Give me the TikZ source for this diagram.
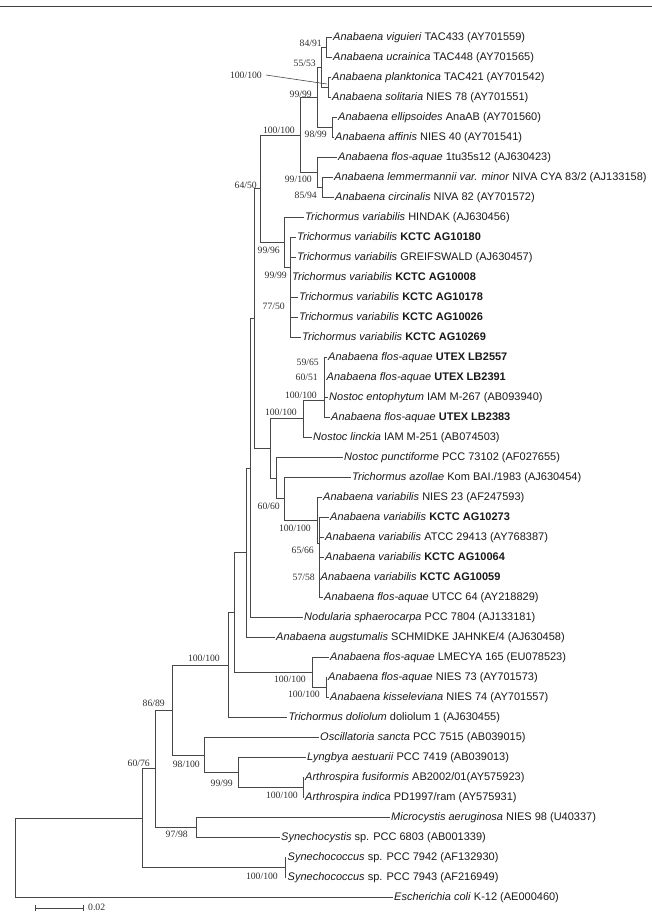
\documentclass[tikz,border=0pt]{standalone}
\usepackage{fontspec}
\setmainfont{Liberation Serif}
\newfontfamily\leaffont{Liberation Sans}
\begin{document}
\begin{tikzpicture}[x=1pt,y=-1pt,
  br/.style={draw=black!72, line width=0.85pt},
  leaf/.style={anchor=west, inner xsep=1.5pt, inner ysep=0pt, font=\leaffont\fontsize{11}{13}\selectfont, text=black!90, text height=8pt, text depth=2.6pt},
  bs/.style={anchor=east, inner sep=0pt, font=\fontsize{9.7}{11}\selectfont, text=black!82},
  rule/.style={draw=black!75, line width=1pt}]
\useasboundingbox (0,0) rectangle (652,922);
\coordinate (r1) at (0,6.5); \coordinate (r2) at (652,6.5);
\draw[rule] (r1) -- (r2);

% leaves
\node[leaf] (l1) at (331.5,37.5) {\textit{Anabaena viguieri} TAC433 (AY701559)};
\node[leaf] (l2) at (331.5,57.5) {\textit{Anabaena ucrainica} TAC448 (AY701565)};
\node[leaf] (l3) at (330.5,77.5) {\textit{Anabaena planktonica} TAC421 (AY701542)};
\node[leaf] (l4) at (330.5,97.5) {\textit{Anabaena solitaria} NIES 78 (AY701551)};
\node[leaf] (l5) at (336.5,117.5) {\textit{Anabaena ellipsoides} AnaAB (AY701560)};
\node[leaf] (l6) at (333.5,137.5) {\textit{Anabaena affinis} NIES 40 (AY701541)};
\node[leaf] (l7) at (336.5,157.5) {\textit{Anabaena flos-aquae} 1tu35s12 (AJ630423)};
\node[leaf] (l8) at (332.5,177.5) {\textit{Anabaena lemmermannii var. minor} NIVA CYA 83/2 (AJ133158)};
\node[leaf] (l9) at (333.5,197.5) {\textit{Anabaena circinalis} NIVA 82 (AY701572)};
\node[leaf] (l10) at (303.5,217.5) {\textit{Trichormus variabilis} HINDAK (AJ630456)};
\node[leaf] (l11) at (295.5,237.5) {\textit{Trichormus variabilis} \textbf{KCTC AG10180}};
\node[leaf] (l12) at (295.5,257.5) {\textit{Trichormus variabilis} GREIFSWALD (AJ630457)};
\node[leaf] (l13) at (290.5,277.5) {\textit{Trichormus variabilis} \textbf{KCTC AG10008}};
\node[leaf] (l14) at (297.5,297.5) {\textit{Trichormus variabilis} \textbf{KCTC AG10178}};
\node[leaf] (l15) at (297.5,317.5) {\textit{Trichormus variabilis} \textbf{KCTC AG10026}};
\node[leaf] (l16) at (300.5,337.5) {\textit{Trichormus variabilis} \textbf{KCTC AG10269}};
\node[leaf] (l17) at (326.5,357.5) {\textit{Anabaena flos-aquae} \textbf{UTEX LB2557}};
\node[leaf] (l18) at (325,377.5) {\textit{Anabaena flos-aquae} \textbf{UTEX LB2391}};
\node[leaf] (l19) at (327.5,397.5) {\textit{Nostoc entophytum} IAM M-267 (AB093940)};
\node[leaf] (l20) at (329.5,417.5) {\textit{Anabaena flos-aquae} \textbf{UTEX LB2383}};
\node[leaf] (l21) at (311.5,437.5) {\textit{Nostoc linckia} IAM M-251 (AB074503)};
\node[leaf] (l22) at (342.5,457.5) {\textit{Nostoc punctiforme} PCC 73102 (AF027655)};
\node[leaf] (l23) at (350.5,477.5) {\textit{Trichormus azollae} Kom BAI./1983 (AJ630454)};
\node[leaf] (l24) at (321.5,497.5) {\textit{Anabaena variabilis} NIES 23 (AF247593)};
\node[leaf] (l25) at (328.5,517.5) {\textit{Anabaena variabilis} \textbf{KCTC AG10273}};
\node[leaf] (l26) at (323.5,537.5) {\textit{Anabaena variabilis} ATCC 29413 (AY768387)};
\node[leaf] (l27) at (323.5,557.5) {\textit{Anabaena variabilis} \textbf{KCTC AG10064}};
\node[leaf] (l28) at (319,577.5) {\textit{Anabaena variabilis} \textbf{KCTC AG10059}};
\node[leaf] (l29) at (322.5,597.5) {\textit{Anabaena flos-aquae} UTCC 64 (AY218829)};
\node[leaf] (l30) at (302.5,617.5) {\textit{Nodularia sphaerocarpa} PCC 7804 (AJ133181)};
\node[leaf] (l31) at (274.5,637.5) {\textit{Anabaena augstumalis} SCHMIDKE JAHNKE/4 (AJ630458)};
\node[leaf] (l32) at (328.5,657.5) {\textit{Anabaena flos-aquae} LMECYA 165 (EU078523)};
\node[leaf] (l33) at (326.5,677.5) {\textit{Anabaena flos-aquae} NIES 73 (AY701573)};
\node[leaf] (l34) at (328.5,697.5) {\textit{Anabaena kisseleviana} NIES 74 (AY701557)};
\node[leaf] (l35) at (287,717.5) {\textit{Trichormus doliolum} doliolum 1 (AJ630455)};
\node[leaf] (l36) at (318.5,737.5) {\textit{Oscillatoria sancta} PCC 7515 (AB039015)};
\node[leaf] (l37) at (305.5,757.5) {\textit{Lyngbya aestuarii} PCC 7419 (AB039013)};
\node[leaf] (l38) at (303.5,777.5) {\textit{Arthrospira fusiformis} AB2002/01(AY575923)};
\node[leaf] (l39) at (303.5,797.5) {\textit{Arthrospira indica} PD1997/ram (AY575931)};
\node[leaf] (l40) at (389.5,817.5) {\textit{Microcystis aeruginosa} NIES 98 (U40337)};
\node[leaf] (l41) at (279.5,837.5) {\textit{Synechocystis} sp. PCC 6803 (AB001339)};
\node[leaf] (l42) at (286,857.5) {\textit{Synechococcus} sp. PCC 7942 (AF132930)};
\node[leaf] (l43) at (286,877.5) {\textit{Synechococcus} sp. PCC 7943 (AF216949)};
\node[leaf] (l44) at (392.5,897.5) {\textit{Escherichia coli} K-12 (AE000460)};

% internal nodes
\coordinate (n8491) at (326,47.5);
\coordinate (cPL) at (328,87.5);
\coordinate (n5553) at (321,67.5);
\coordinate (n9899) at (332,127.5);
\coordinate (n9999) at (317,97.5);
\coordinate (n8594) at (322,187.5);
\coordinate (n99100) at (317,172.5);
\coordinate (cX) at (300,135);
\coordinate (cW) at (290,267.5);
\coordinate (n9996) at (284,242.5);
\coordinate (cY) at (260,188.75);
\coordinate (n5965) at (324,367.5);
\coordinate (n6051) at (324,382.5);
\coordinate (cN) at (324,400);
\coordinate (cM) at (303,418.75);
\coordinate (n5758) at (319,587.5);
\coordinate (cS) at (319,543);
\coordinate (cR) at (317,520.25);
\coordinate (cQ) at (284,498.9);
\coordinate (cP) at (276,478.2);
\coordinate (cO) at (270,448.5);
\coordinate (cT) at (254,318.6);
\coordinate (cU) at (250,468);
\coordinate (cV) at (246,552.8);
\coordinate (cL) at (326,687.5);
\coordinate (cK) at (312,672.5);
\coordinate (cI) at (234,612.6);
\coordinate (cF) at (228,665.1);
\coordinate (cAR) at (303,787.5);
\coordinate (cH) at (238,772.5);
\coordinate (cG) at (204,755);
\coordinate (cE) at (172,710);
\coordinate (cD) at (196,827.5);
\coordinate (cB) at (155,768.8);
\coordinate (cSY) at (285,867.5);
\coordinate (cA) at (142,818.1);
\coordinate (croot) at (15,857.8);

% branches
\draw[br] (croot) |- (cA);  \draw[br] (croot) |- (l44.west);
\draw[br] (cA) |- (cB);  \draw[br] (cA) |- (cSY);
\draw[br] (cSY) |- (l42.west);  \draw[br] (cSY) |- (l43.west);
\draw[br] (cB) |- (cE);  \draw[br] (cB) |- (cD);
\draw[br] (cD) |- (l40.west);  \draw[br] (cD) |- (l41.west);
\draw[br] (cE) |- (cF);  \draw[br] (cE) |- (cG);
\draw[br] (cG) |- (l36.west);  \draw[br] (cG) |- (cH);
\draw[br] (cH) |- (l37.west);  \draw[br] (cH) |- (cAR);
\draw[br] (cAR) |- (l38.west);  \draw[br] (cAR) |- (l39.west);
\draw[br] (cF) |- (cI);  \draw[br] (cF) |- (l35.west);
\draw[br] (cI) |- (cV);  \draw[br] (cI) |- (cK);
\draw[br] (cK) |- (l32.west);  \draw[br] (cK) |- (cL);
\draw[br] (cL) |- (l33.west);  \draw[br] (cL) |- (l34.west);
\draw[br] (cV) |- (cU);  \draw[br] (cV) |- (l31.west);
\draw[br] (cU) |- (cT);  \draw[br] (cU) |- (l30.west);
\draw[br] (cT) |- (cY);  \draw[br] (cT) |- (cO);
\draw[br] (cO) |- (cM);  \draw[br] (cO) |- (cP);
\draw[br] (cP) |- (l22.west);  \draw[br] (cP) |- (cQ);
\draw[br] (cQ) |- (l23.west);  \draw[br] (cQ) |- (cR);
\draw[br] (cR) |- (l24.west);  \draw[br] (cR) |- (cS);
\draw[br] (cS) |- (l25.west);  \draw[br] (cS) |- (l26.west);
\draw[br] (cS) |- (l27.west);  \draw[br] (cS) |- (n5758);
\draw[br] (n5758) |- (l28.west);  \draw[br] (n5758) |- (l29.west);
\draw[br] (cM) |- (cN);  \draw[br] (cM) |- (l21.west);
\draw[br] (cN) |- (n6051);  \draw[br] (cN) |- (l20.west);
\draw[br] (n6051) |- (n5965);  \draw[br] (n6051) |- (l19.west);
\draw[br] (n5965) |- (l17.west);  \draw[br] (n5965) |- (l18.west);
\draw[br] (cY) |- (cX);  \draw[br] (cY) |- (n9996);
\draw[br] (n9996) |- (l10.west);  \draw[br] (n9996) |- (cW);
\draw[br] (cW) |- (l11.west);  \draw[br] (cW) |- (l12.west);
\draw[br] (cW) |- (l13.west);  \draw[br] (cW) |- (l14.west);
\draw[br] (cW) |- (l15.west);  \draw[br] (cW) |- (l16.west);
\draw[br] (cX) |- (n9999);  \draw[br] (cX) |- (n99100);
\draw[br] (n99100) |- (l7.west);  \draw[br] (n99100) |- (n8594);
\draw[br] (n8594) |- (l8.west);  \draw[br] (n8594) |- (l9.west);
\draw[br] (n9999) |- (n5553);  \draw[br] (n9999) |- (n9899);
\draw[br] (n9899) |- (l5.west);  \draw[br] (n9899) |- (l6.west);
\draw[br] (n5553) |- (n8491);  \draw[br] (n5553) |- (cPL);
\draw[br] (n8491) |- (l1.west);  \draw[br] (n8491) |- (l2.west);
\draw[br] (cPL) |- (l3.west);  \draw[br] (cPL) |- (l4.west);

% bootstrap values
\node[bs] (b1) at (322,43) {84/91};
\node[bs] (b2) at (316,63) {55/53};
\node[bs] (b3) at (262,75) {100/100};
\coordinate (pltip) at (327,84);
\draw[draw=black!72, line width=0.6pt] ([xshift=4pt]b3.east) -- (pltip);
\node[bs] (b4) at (312,94) {99/99};
\node[bs] (b5) at (295,130) {100/100};
\node[bs] (b6) at (327,134) {98/99};
\node[bs] (b7) at (312,179) {99/100};
\node[bs] (b8) at (257,185) {64/50};
\node[bs] (b9) at (317,195) {85/94};
\node[bs] (b10) at (280,250) {99/96};
\node[bs] (b11) at (287,275) {99/99};
\node[bs] (b12) at (285,306) {77/50};
\node[bs] (b13) at (319,362) {59/65};
\node[bs] (b14) at (318,377) {60/51};
\node[bs] (b15) at (317,395) {100/100};
\node[bs] (b16) at (297,412) {100/100};
\node[bs] (b17) at (280,506) {60/60};
\node[bs] (b18) at (311,528) {100/100};
\node[bs] (b19) at (314,550) {65/66};
\node[bs] (b20) at (315,577) {57/58};
\node[bs] (b21) at (220,658) {100/100};
\node[bs] (b22) at (306,679) {100/100};
\node[bs] (b23) at (320,694) {100/100};
\node[bs] (b24) at (165,703) {86/89};
\node[bs] (b25) at (150,763) {60/76};
\node[bs] (b26) at (200,764) {98/100};
\node[bs] (b27) at (233,783) {99/99};
\node[bs] (b28) at (298,795) {100/100};
\node[bs] (b29) at (188,834) {97/98};
\node[bs] (b30) at (278,876) {100/100};

% scale bar
\coordinate (sb1) at (35,908); \coordinate (sb2) at (83,908);
\draw[br] (sb1) -- (sb2);
\draw[br] ([yshift=-3pt]sb1) -- ([yshift=3pt]sb1);
\draw[br] ([yshift=-3pt]sb2) -- ([yshift=3pt]sb2);
\node[anchor=west, inner sep=0pt, font=\fontsize{9.7}{11}\selectfont, text=black!82] (sbl) at (88,907) {0.02};
\end{tikzpicture}
\end{document}
